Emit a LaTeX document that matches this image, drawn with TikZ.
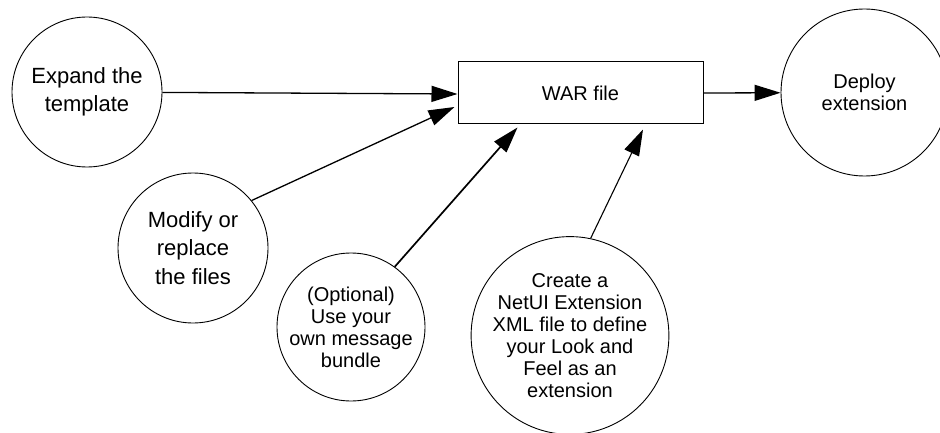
\documentclass[tikz,border=0pt]{standalone}
\usepackage{fontspec}
\setmainfont{Liberation Sans}
\usetikzlibrary{arrows.meta}
\begin{document}
\begin{tikzpicture}[x=1pt,y=-1pt,
  circ/.style={circle,draw,line width=0.9pt,inner sep=0pt,align=center},
  big/.style={font=\fontsize{22}{28.5}\selectfont},
  small/.style={font=\fontsize{20}{22}\selectfont},
  conn/.style={line width=1.3pt,-{Triangle[length=26pt,width=16pt]}}]
\useasboundingbox (0,0) rectangle (940,433);
\node[circ,big,minimum size=150pt] (expand) at (87,92) {Expand the\\template};
\node[circ,big,minimum size=150pt] (modify) at (193,248) {Modify or\\replace\\the files};
\node[circ,small,minimum size=148pt] (optional) at (351,327) {(Optional)\\Use your\\own message\\bundle};
\node[circ,small,minimum size=195pt] (create) at (570,335.5) {Create a\\NetUI Extension\\XML file to define\\your Look and\\Feel as an\\extension};
\node[draw,line width=1pt,small,minimum width=245pt,minimum height=62pt,inner sep=0pt] (war) at (580.5,93) {WAR file};
\node[circ,small,minimum size=167pt] (deploy) at (864.5,92.5) {Deploy\\extension};
\draw[conn] (expand) -- ([yshift=-1pt]war.west);
\draw[conn] (modify.39) -- ([xshift=-3pt,yshift=-14pt]war.west);
\draw[conn,line width=1.7pt] (optional.54) -- ([xshift=-63pt,yshift=-3pt]war.south);
\draw[conn,line width=1.1pt] (create.78) -- ([xshift=62.5pt,yshift=-5pt]war.south);
\draw[conn] (war.east) -- (deploy);
\end{tikzpicture}
\end{document}
